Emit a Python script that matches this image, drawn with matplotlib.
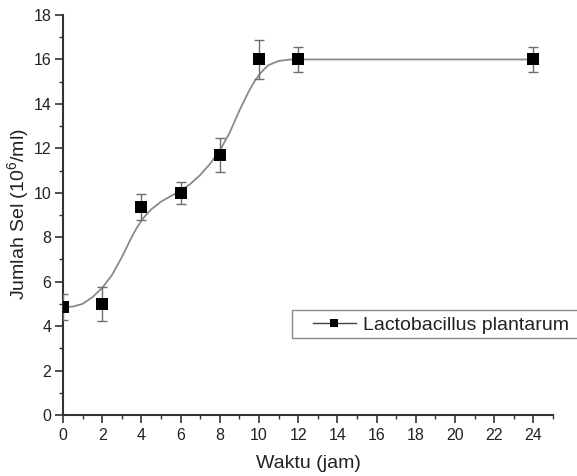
import matplotlib
matplotlib.use("Agg")
import matplotlib.pyplot as plt
from matplotlib.lines import Line2D
from matplotlib.patches import Rectangle
from matplotlib.ticker import MultipleLocator

# Data
time_h = [0, 2, 4, 6, 8, 10, 12, 24]
cells = [4.85, 5.0, 9.35, 10.0, 11.7, 16.0, 16.0, 16.0]
cells_err = [0.58, 0.76, 0.58, 0.5, 0.78, 0.88, 0.58, 0.58]

# Fitted curve
curve_x = [0, 0.5, 1.0, 1.5, 2.0, 2.5, 3.0, 3.5, 3.75, 4.0, 4.25, 4.5, 5.0, 5.5, 6.0,
           6.5, 7.0, 7.5, 8.0, 8.5, 9.0, 9.5, 9.75, 10.0, 10.25, 10.5, 11.0, 11.5, 12.0, 24]
curve_y = [4.85, 4.88, 5.0, 5.3, 5.72, 6.3, 7.1, 8.0, 8.4, 8.75, 9.02, 9.25, 9.6, 9.85, 10.08,
           10.4, 10.8, 11.3, 11.9, 12.7, 13.7, 14.6, 14.98, 15.3, 15.55, 15.75, 15.93, 15.99, 16.0, 16.0]

series_label = "Lactobacillus plantarum"
xlabel = "Waktu (jam)"
ylabel = r"Jumlah Sel (10$^{6}$/ml)"

plt.rcParams['font.family'] = ['Liberation Sans', 'DejaVu Sans']
plt.rcParams['mathtext.fontset'] = 'custom'
plt.rcParams['mathtext.rm'] = 'Liberation Sans'

W, H = 577, 476
fig = plt.figure(figsize=(W / 100, H / 100), dpi=100)
ax = fig.add_axes([63 / W, 1 - 415 / H, (553 - 63) / W, (415 - 15) / H])

text_color = '#222222'
ax.plot(curve_x, curve_y, color='#8a8a8a', lw=1.3, zorder=2)
ax.errorbar(time_h, cells, yerr=cells_err, fmt='none', ecolor='#6e6e6e',
            elinewidth=1.0, capsize=3.3, capthick=1.0, zorder=3)
ax.plot(time_h, cells, ls='none', marker='s', ms=8, mew=0, color='black', zorder=4)

ax.set_xlim(0, 25)
ax.set_ylim(0, 18)
ax.xaxis.set_major_locator(MultipleLocator(2))
ax.xaxis.set_minor_locator(MultipleLocator(1))
ax.yaxis.set_major_locator(MultipleLocator(2))
ax.yaxis.set_minor_locator(MultipleLocator(1))
ax.set_xticks(range(0, 25, 2))

for s in ['top', 'right']:
    ax.spines[s].set_visible(False)
for s in ['left', 'bottom']:
    ax.spines[s].set_color('#333333')
    ax.spines[s].set_linewidth(1.5)

ax.tick_params(which='major', length=5.5, width=1.2, color='#333333',
               labelsize=11.5, labelcolor=text_color)
ax.tick_params(which='minor', length=3, width=1.0, color='#333333')
ax.tick_params(axis='x', pad=4)
ax.tick_params(axis='y', pad=3)

ax.set_xlabel(xlabel, fontsize=14, color=text_color, va='center')
ax.set_ylabel(ylabel, fontsize=14, color=text_color, va='center')
ax.xaxis.set_label_coords(0.5, (415 - 463) / 400)
ax.yaxis.set_label_coords((18.5 - 63) / 490, (415 - 214) / 400)

# Legend
handle = Line2D([], [], color='#444444', lw=1.0, marker='s', ms=5.5, mew=0,
                markerfacecolor='black')
fig.legend([handle], [series_label], loc='center left',
           bbox_to_anchor=(313 / W, 1 - 325 / H), frameon=False,
           fontsize=14, handlelength=2.2, handletextpad=0.35,
           borderpad=0, borderaxespad=0, labelcolor=text_color)
fig.patches.append(Rectangle((292 / W, 1 - 338 / H), (585 - 292) / W, 28 / H,
                             transform=fig.transFigure, fill=False,
                             edgecolor='#8a8a8a', lw=1.0, clip_on=False))

fig.savefig('out.png', dpi=100)
